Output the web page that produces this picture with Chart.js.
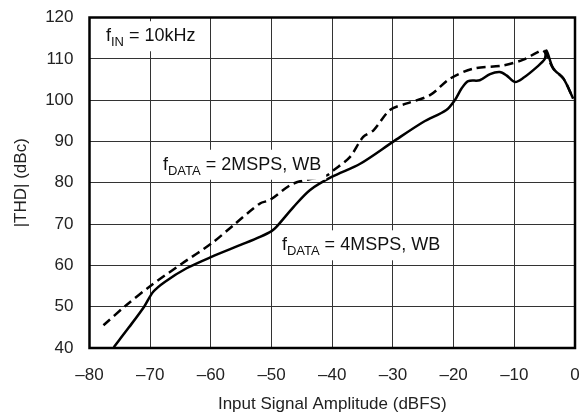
<!DOCTYPE html>
<html>
<head>
<meta charset="utf-8">
<script src="https://cdn.jsdelivr.net/npm/chart.js@4"></script>
<style>
  html, body { margin: 0; padding: 0; background: #fff; }
  #wrap { width: 586px; height: 415px; position: relative; }
</style>
</head>
<body>
<div id="wrap"><canvas id="thdChart"></canvas></div>
<script>
// fDATA = 4MSPS (solid)
var solidX = [-76, -73.5, -71, -69.5, -67.6, -64, -60, -55, -51.9, -50, -49.2, -46.4, -43.7, -40.1, -35.4, -30, -25, -21.2, -19.8, -18.7, -17.6, -15.7, -14, -12.4, -11.3, -9.9, -8.5, -6.3, -5, -4.7, -3.6, -1.9, -0.3];
var solidY = [40.2, 45, 50, 53.6, 56, 59.3, 62, 65, 66.9, 68.3, 69.3, 74.1, 78.2, 81.4, 84.6, 89.9, 94.7, 97.6, 100, 102.8, 104.6, 104.8, 106.3, 106.8, 106, 104.4, 105.4, 108, 109.9, 112, 107.7, 105.2, 100.4];

// fDATA = 2MSPS (dashed)
var dashX = [-77.7, -74, -69.8, -64.8, -59.9, -56.3, -51.9, -50.3, -46.4, -40.9, -39.8, -37.1, -34.9, -33.2, -30.5, -27.7, -23.9, -20.6, -16.8, -11.8, -8.5, -6.3, -5.2, -3.6, -1.9, -0.3];
var dashY = [45.5, 50.3, 55.2, 60.4, 65.3, 69.7, 75, 75.8, 79.8, 81.8, 83, 86.2, 91.1, 92.7, 97.6, 99.2, 101.2, 105.2, 107.6, 108.4, 109.8, 111.5, 112, 107.7, 105.2, 100.4];

var xTicks = [-80, -70, -60, -50, -40, -30, -20, -10, 0];
var yTicks = [40, 50, 60, 70, 80, 90, 100, 110, 120];

function pts(xs, ys) {
  return xs.map(function (x, i) { return { x: x, y: ys[i] }; });
}

var FONT = 'Liberation Sans, Arial, sans-serif';

// text boxes with subscripts, white backing like the original figure
var notes = [
  { x: -77.3, y: 115.7, main: 'f', sub: 'IN', rest: ' = 10kHz' },
  { x: -67.9, y: 84.6, main: 'f', sub: 'DATA', rest: ' = 2MSPS, WB' },
  { x: -48.3, y: 65.1, main: 'f', sub: 'DATA', rest: ' = 4MSPS, WB' }
];

var notePlugin = {
  id: 'notes',
  afterDatasetsDraw: function (chart) {
    var c = chart.ctx, xs = chart.scales.x, ys = chart.scales.y;
    c.save();
    notes.forEach(function (n) {
      var px = xs.getPixelForValue(n.x), py = ys.getPixelForValue(n.y);
      c.font = '18px ' + FONT;
      var w1 = c.measureText(n.main).width;
      var w3 = c.measureText(n.rest).width;
      c.font = '13px ' + FONT;
      var w2 = c.measureText(n.sub).width;
      c.fillStyle = '#fff';
      c.fillRect(px - 5, py - 14, w1 + w2 + w3 + 10, 30);
      c.fillStyle = '#111';
      c.textBaseline = 'alphabetic';
      c.textAlign = 'left';
      c.font = '18px ' + FONT;
      c.fillText(n.main, px, py + 6);
      c.font = '13px ' + FONT;
      c.fillText(n.sub, px + w1, py + 11);
      c.font = '18px ' + FONT;
      c.fillText(n.rest, px + w1 + w2, py + 6);
    });
    c.restore();
  },
  afterDraw: function (chart) {
    var a = chart.chartArea, c = chart.ctx;
    c.save();
    c.strokeStyle = '#000';
    c.lineWidth = 2.5;
    c.strokeRect(a.left, a.top, a.right - a.left, a.bottom - a.top);
    c.restore();
  }
};

new Chart(document.getElementById('thdChart').getContext('2d'), {
  type: 'line',
  data: {
    datasets: [
      {
        label: '4MSPS, WB',
        data: pts(solidX, solidY),
        borderColor: '#000',
        borderWidth: 2.5,
        pointRadius: 0,
        tension: 0.3,
        fill: false
      },
      {
        label: '2MSPS, WB',
        data: pts(dashX, dashY),
        borderColor: '#000',
        borderWidth: 2.5,
        borderDash: [9, 5],
        pointRadius: 0,
        tension: 0.3,
        fill: false
      }
    ]
  },
  options: {
    responsive: true,
    maintainAspectRatio: false,
    animation: false,
    layout: { padding: { left: 0, right: 11, top: 17.5, bottom: 0 } },
    plugins: { legend: { display: false }, tooltip: { enabled: false } },
    scales: {
      x: {
        type: 'linear',
        min: -80,
        max: 0,
        afterBuildTicks: function (s) { s.ticks = xTicks.map(function (v) { return { value: v }; }); },
        afterFit: function (s) { s.height = 67; s.paddingLeft = 0; s.paddingRight = 0; },
        grid: { color: '#333', lineWidth: 1, drawTicks: false },
        border: { display: false },
        ticks: {
          padding: 17,
          color: '#222',
          font: { family: FONT, size: 17 },
          maxRotation: 0,
          callback: function (v) { return String(v).replace('-', '\u2013'); }
        },
        title: {
          display: true,
          text: 'Input Signal Amplitude (dBFS)',
          color: '#222',
          font: { family: FONT, size: 17 },
          padding: { top: 4, bottom: 0 }
        }
      },
      y: {
        min: 40,
        max: 120,
        afterBuildTicks: function (s) { s.ticks = yTicks.map(function (v) { return { value: v }; }); },
        afterFit: function (s) { s.width = 89.5; s.paddingTop = 0; s.paddingBottom = 0; },
        grid: { color: '#333', lineWidth: 1, drawTicks: false },
        border: { display: false },
        ticks: {
          padding: 16,
          color: '#222',
          font: { family: FONT, size: 17 }
        },
        title: {
          display: true,
          text: '|THD| (dBc)',
          color: '#222',
          font: { family: FONT, size: 17 },
          padding: { top: 11, bottom: 0 }
        }
      }
    }
  },
  plugins: [notePlugin]
});
</script>
</body>
</html>
